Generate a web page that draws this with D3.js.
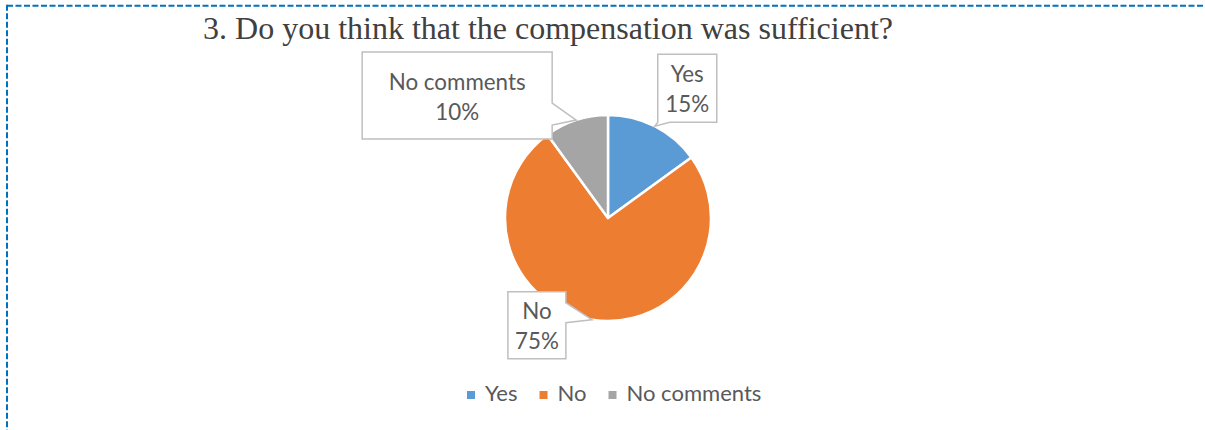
<!DOCTYPE html>
<html>
<head>
<meta charset="utf-8">
<script src="https://cdn.jsdelivr.net/npm/d3@7"></script>
<style>
  html, body { margin: 0; padding: 0; background: #ffffff; }
  svg { display: block; }
</style>
</head>
<body>
<svg id="chart" width="1205" height="430"></svg>
<script>
// ---- Data ----
const title = "3. Do you think that the compensation was sufficient?";
const categories = ["Yes", "No", "No comments"];
const values = [15, 75, 10];
const colors = ["#5B9BD5", "#ED7D31", "#A5A5A5"];

// ---- Layout (not data) ----
const W = 1205, H = 430;
const cx = 608, cy = 218, radius = 103;
const labelFont = "Lato, 'Noto Sans', sans-serif";
const textColor = "#595959";
// callout box geometry relative to the pointer tip (which sits on the slice's mid-angle at the rim)
const calloutLayout = [
  { x0: 3, y0: -72, x1: 62, y1: -4, side: "bottom", n0: 15, n1: 3 },
  { x0: -84, y0: -28, x1: -26, y1: 39, side: "right", n0: -17, n1: 3 },
  { x0: -214, y0: -68, x1: -24, y1: 19, side: "right", n0: -17, n1: 5 }
];

const svg = d3.select("#chart");

// Border (dashed)
svg.append("line").attr("x1", 7).attr("y1", 5.7).attr("x2", W).attr("y2", 5.7)
  .attr("stroke", "#0070C0").attr("stroke-width", 2).attr("stroke-dasharray", "6,2.5");
svg.append("line").attr("x1", 7).attr("y1", 4.7).attr("x2", 7).attr("y2", H)
  .attr("stroke", "#0070C0").attr("stroke-width", 2).attr("stroke-dasharray", "6,2.5");

// helper: fit font size so the text has a target width
function fitSize(sel, target) {
  const w = sel.node().getComputedTextLength();
  const fs = parseFloat(sel.attr("font-size"));
  return fs * target / w;
}

// Title
const t = svg.append("text")
  .attr("x", 548).attr("y", 39)
  .attr("text-anchor", "middle")
  .attr("font-family", "'Liberation Serif', 'Times New Roman', serif")
  .attr("font-size", 30)
  .attr("fill", "#404040")
  .text(title);
t.attr("font-size", fitSize(t, 690));

// measure label font size
const probe = svg.append("text").attr("font-family", labelFont).attr("font-size", 20).text("No comments");
const labelSize = fitSize(probe, 137);
const legendSize = fitSize(probe, 135);
probe.remove();

// Pie
const pie = d3.pie().sort(null).value(d => d.value).startAngle(0).endAngle(2 * Math.PI);
const data = categories.map((c, i) => ({ cat: c, value: values[i], color: colors[i], i }));
const arcs = pie(data);
const arc = d3.arc().innerRadius(0).outerRadius(radius);
const total = d3.sum(values);
const pct = d3.format(".0%");

const g = svg.append("g").attr("transform", `translate(${cx},${cy})`);
g.selectAll("path.slice").data(arcs).enter().append("path")
  .attr("class", "slice")
  .attr("d", arc)
  .attr("fill", d => d.data.color)
  .attr("stroke", "#ffffff")
  .attr("stroke-width", 2.5)
  .attr("stroke-linejoin", "round");

// Callouts
function calloutPath(tip, L) {
  const x0 = tip[0] + L.x0, y0 = tip[1] + L.y0, x1 = tip[0] + L.x1, y1 = tip[1] + L.y1;
  const p = d3.path();
  p.moveTo(x0, y0);
  p.lineTo(x1, y0);
  if (L.side === "right") {
    p.lineTo(x1, tip[1] + L.n0);
    p.lineTo(tip[0], tip[1]);
    p.lineTo(x1, tip[1] + L.n1);
    p.lineTo(x1, y1);
    p.lineTo(x0, y1);
  } else {
    p.lineTo(x1, y1);
    p.lineTo(tip[0] + L.n0, y1);
    p.lineTo(tip[0], tip[1]);
    p.lineTo(tip[0] + L.n1, y1);
    p.lineTo(x0, y1);
  }
  p.closePath();
  return p.toString();
}

const tipR = radius;
arcs.forEach((a, i) => {
  const mid = (a.startAngle + a.endAngle) / 2;
  const tip = [cx + tipR * Math.sin(mid), cy - tipR * Math.cos(mid)];
  const L = calloutLayout[i];
  svg.append("path")
    .attr("d", calloutPath(tip, L))
    .attr("fill", "#ffffff")
    .attr("stroke", "#BFBFBF")
    .attr("stroke-width", 1.5)
    .attr("stroke-linejoin", "miter");
  const bx = tip[0] + (L.x0 + L.x1) / 2;
  const by = tip[1] + (L.y0 + L.y1) / 2;
  const txt = svg.append("text")
    .attr("text-anchor", "middle")
    .attr("font-family", labelFont)
    .attr("font-size", labelSize)
    .attr("fill", textColor);
  txt.append("tspan").attr("x", bx).attr("y", by - 6).text(a.data.cat);
  txt.append("tspan").attr("x", bx).attr("y", by + 24).text(pct(a.data.value / total));
});

// Legend
let lx = 467;
const legendY = 401;
data.forEach(d => {
  svg.append("rect").attr("x", lx).attr("y", legendY - 10).attr("width", 8).attr("height", 8)
    .attr("fill", d.color);
  const tx = svg.append("text").attr("x", lx + 18).attr("y", legendY)
    .attr("font-family", labelFont).attr("font-size", legendSize)
    .attr("fill", textColor).text(d.cat);
  lx = lx + 18 + tx.node().getComputedTextLength() + 22;
});
</script>
</body>
</html>
